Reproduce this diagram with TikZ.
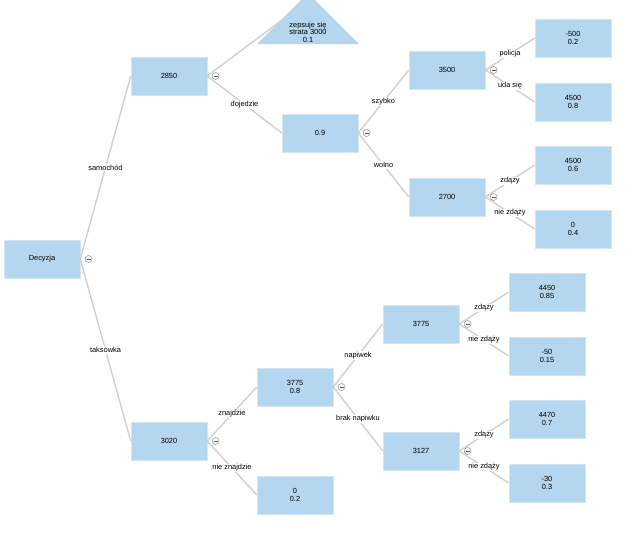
\documentclass[tikz,border=0pt]{standalone}
\usepackage{fontspec}
\setmainfont{Liberation Sans}
\usetikzlibrary{positioning,calc}
\definecolor{boxblue}{RGB}{180,214,238}
\definecolor{edgegray}{RGB}{208,208,208}

\begin{document}
\begin{tikzpicture}[x=1pt, y=-1pt,
  box/.style={fill=boxblue, draw=boxblue!60!white, line width=0.6pt,
              minimum width=76pt, minimum height=38pt, inner sep=1pt,
              align=center, font=\fontsize{7.4}{8.5}\selectfont},
  toggle/.style={circle, draw=gray!90, fill=white, line width=0.5pt,
                 minimum size=7pt, inner sep=0pt,
                 path picture={\draw[gray!70!black, line width=0.5pt]
                   ($(path picture bounding box.center)+(-2pt,0)$) --
                   ($(path picture bounding box.center)+(2pt,0)$);}},
  branch/.style={draw=edgegray, line width=1.4pt},
  lbl/.style={midway, fill=white, inner sep=0.8pt, font=\fontsize{7.4}{8}\selectfont},
  node distance=4.5pt
]
  \useasboundingbox (0,0) rectangle (643,539);

  \node[box] (dec) at (42,259) {Decyzja};

  % samochod
  \node[box] (car) at (169,76) {2850};
  \fill[boxblue] (257,44) -- (308,-7) -- (359,44) -- cycle;
  \node[align=center, font=\fontsize{7.4}{7.6}\selectfont] (breaks) at (308,32)
    {zepsuje się\\strata 3000\\0.1};
  \coordinate (breaks-in) at (282,20);
  \node[box] (arrive) at (320,133) {0.9};
  \node[box] (fast) at (447,70) {3500};
  \node[box] (slow) at (447,197) {2700};
  \node[box] (police) at (573,38) {-500\\0.2};
  \node[box] (pass) at (573,102) {4500\\0.8};
  \node[box] (slowin) at (573,165) {4500\\0.6};
  \node[box] (slowlate) at (573,229) {0\\0.4};

  % taksowka
  \node[box] (taxi) at (169,441) {3020};
  \node[box] (found) at (295,387) {3775\\0.8};
  \node[box] (notfound) at (295,495) {0\\0.2};
  \node[box] (tip) at (421,324) {3775};
  \node[box] (notip) at (421,451) {3127};
  \node[box] (tipin) at (547,292) {4450\\0.85};
  \node[box] (tiplate) at (547,356) {-50\\0.15};
  \node[box] (notipin) at (547,419) {4470\\0.7};
  \node[box] (notiplate) at (547,483) {-30\\0.3};

  \draw[branch] (dec.east) -- (car.west) node[lbl] {samochód};
  \draw[branch] (dec.east) -- (taxi.west) node[lbl] {taksówka};
  \draw[branch] (car.east) -- (breaks-in);
  \draw[branch] (car.east) -- (arrive.west) node[lbl] {dojedzie};
  \draw[branch] (arrive.east) -- (fast.west) node[lbl] {szybko};
  \draw[branch] (arrive.east) -- (slow.west) node[lbl] {wolno};
  \draw[branch] (fast.east) -- (police.west) node[lbl] {policja};
  \draw[branch] (fast.east) -- (pass.west) node[lbl] {uda się};
  \draw[branch] (slow.east) -- (slowin.west) node[lbl] {zdąży};
  \draw[branch] (slow.east) -- (slowlate.west) node[lbl] {nie zdąży};
  \draw[branch] (taxi.east) -- (found.west) node[lbl] {znajdzie};
  \draw[branch] (taxi.east) -- (notfound.west) node[lbl] {nie znajdzie};
  \draw[branch] (found.east) -- (tip.west) node[lbl] {napiwek};
  \draw[branch] (found.east) -- (notip.west) node[lbl] {brak napiwku};
  \draw[branch] (tip.east) -- (tipin.west) node[lbl] {zdąży};
  \draw[branch] (tip.east) -- (tiplate.west) node[lbl] {nie zdąży};
  \draw[branch] (notip.east) -- (notipin.west) node[lbl] {zdąży};
  \draw[branch] (notip.east) -- (notiplate.west) node[lbl] {nie zdąży};

  \node[toggle, right=of dec] (decT) {};
  \node[toggle, right=of car] (carT) {};
  \node[toggle, right=of arrive] (arriveT) {};
  \node[toggle, right=of fast] (fastT) {};
  \node[toggle, right=of slow] (slowT) {};
  \node[toggle, right=of taxi] (taxiT) {};
  \node[toggle, right=of found] (foundT) {};
  \node[toggle, right=of tip] (tipT) {};
  \node[toggle, right=of notip] (notipT) {};
\end{tikzpicture}
\end{document}
